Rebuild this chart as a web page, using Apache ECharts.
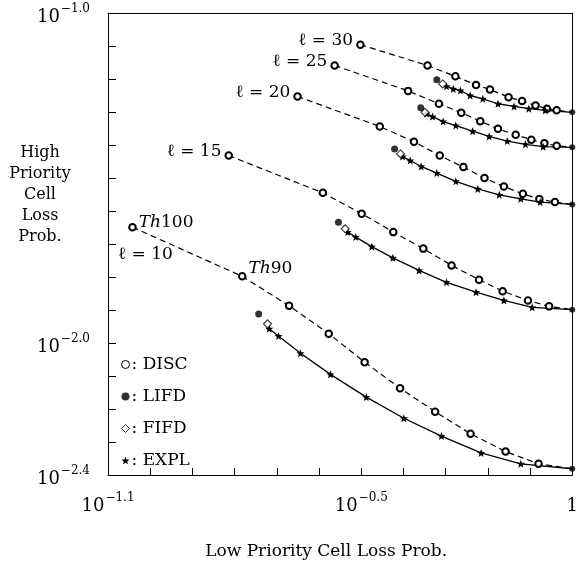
<!DOCTYPE html>
<html><head><meta charset="utf-8">
<script src="https://cdn.jsdelivr.net/npm/echarts@6/dist/echarts.min.js"></script>
<style>html,body{margin:0;padding:0;background:#fff}#c{width:581px;height:565px}</style>
</head><body><div id="c"></div>
<script>
// All values are log10 of probabilities: [log10(Low Priority CLP), log10(High Priority CLP)]
const curveNames = ['\u2113 = 10', '\u2113 = 15', '\u2113 = 20', '\u2113 = 25', '\u2113 = 30'];
const thresholdLabels = ['Th100', 'Th90'];

const disc10 = [[-1.042,-1.649],[-0.782,-1.798],[-0.671,-1.887],[-0.577,-1.972],[-0.492,-2.058],[-0.408,-2.137],[-0.325,-2.208],[-0.241,-2.275],[-0.158,-2.329],[-0.080,-2.366],[0,-2.381]];
const disc15 = [[-0.814,-1.432],[-0.591,-1.545],[-0.499,-1.608],[-0.424,-1.664],[-0.353,-1.714],[-0.286,-1.765],[-0.221,-1.808],[-0.165,-1.843],[-0.105,-1.871],[-0.055,-1.889],[0,-1.899]];
const disc20 = [[-0.651,-1.253],[-0.456,-1.344],[-0.375,-1.390],[-0.314,-1.432],[-0.258,-1.467],[-0.208,-1.500],[-0.162,-1.526],[-0.117,-1.548],[-0.078,-1.564],[-0.041,-1.573],[0,-1.580]];
const disc25 = [[-0.563,-1.159],[-0.389,-1.236],[-0.316,-1.275],[-0.263,-1.302],[-0.218,-1.328],[-0.176,-1.351],[-0.134,-1.369],[-0.097,-1.384],[-0.066,-1.395],[-0.037,-1.402],[0,-1.407]];
const disc30 = [[-0.502,-1.096],[-0.343,-1.159],[-0.277,-1.192],[-0.228,-1.218],[-0.195,-1.232],[-0.151,-1.255],[-0.119,-1.267],[-0.087,-1.280],[-0.060,-1.290],[-0.037,-1.295],[0,-1.301]];

const expl10 = [[-0.718,-1.957],[-0.696,-1.979],[-0.644,-2.031],[-0.573,-2.095],[-0.488,-2.164],[-0.399,-2.228],[-0.310,-2.282],[-0.216,-2.333],[-0.122,-2.366],[0,-2.381]];
const expl15 = [[-0.532,-1.664],[-0.513,-1.679],[-0.475,-1.708],[-0.425,-1.742],[-0.363,-1.780],[-0.298,-1.816],[-0.228,-1.846],[-0.162,-1.871],[-0.095,-1.892],[0,-1.899]];
const expl20 = [[-0.402,-1.435],[-0.384,-1.447],[-0.358,-1.465],[-0.321,-1.485],[-0.276,-1.510],[-0.224,-1.533],[-0.173,-1.551],[-0.122,-1.563],[-0.076,-1.573],[0,-1.580]];
const expl25 = [[-0.345,-1.305],[-0.331,-1.314],[-0.306,-1.329],[-0.276,-1.341],[-0.236,-1.358],[-0.197,-1.374],[-0.154,-1.388],[-0.111,-1.398],[-0.069,-1.405],[0,-1.407]];
const expl30 = [[-0.298,-1.222],[-0.282,-1.230],[-0.265,-1.235],[-0.242,-1.250],[-0.212,-1.260],[-0.176,-1.275],[-0.138,-1.283],[-0.103,-1.290],[-0.064,-1.295],[0,-1.301]];

const lifd = [[-0.743,-1.912],[-0.554,-1.634],[-0.421,-1.412],[-0.359,-1.287],[-0.321,-1.202]];
const fifd = [[-0.722,-1.942],[-0.538,-1.654],[-0.407,-1.427],[-0.349,-1.301],[-0.307,-1.215]];
const endPoints = [[0,-2.381],[0,-1.899],[0,-1.580],[0,-1.407],[0,-1.301]];

const xTickLabels = [-1.1, -0.5, 0];
const yTickLabels = [-2.4, -2.0, -1.0];

const FONT = '"DejaVu Serif", "Liberation Serif", serif';
const starPath = 'path://M0,-10L2.6,-3.4L9.5,-3.1L4.1,1.2L5.9,8.1L0,4.2L-5.9,8.1L-4.1,1.2L-9.5,-3.1L-2.6,-3.4Z';

const discs = [disc10, disc15, disc20, disc25, disc30];
const expls = [expl10, expl15, expl20, expl25, expl30];

function expLabel(v, list) {
  const r = Math.round(v * 10) / 10;
  if (!list.some(t => Math.abs(t - r) < 1e-6)) return '';
  if (Math.abs(r) < 1e-6) return '{b|1}';
  return '{b|10}{s|\u2212' + Math.abs(r).toFixed(1) + '}';
}
const richLab = {
  b: {fontFamily: FONT, fontSize: 18, color: '#000', padding: [8, 0, 0, 0]},
  s: {fontFamily: FONT, fontSize: 12, color: '#000', padding: [0, 0, 8, 1]}
};
const labStyle = {fontFamily: FONT, fontSize: 17, color: '#000'};
const italicRich = {i: {fontFamily: FONT, fontStyle: 'italic', fontSize: 17, color: '#000'}};

const series = [];
discs.forEach((d, i) => {
  const data = d.map((p, j) => {
    const item = {value: p};
    if (j === d.length - 1) item.symbol = 'none';
    if (j === 0) {
      if (i === 0) {
        item.label = {show: true, position: 'right', distance: 2, offset: [0, -5],
          formatter: '{i|Th}' + thresholdLabels[0].slice(2), rich: italicRich, ...labStyle};
      } else {
        item.label = {show: true, position: 'left', distance: 3, offset: [0, -4], formatter: curveNames[i], ...labStyle};
      }
    }
    if (i === 0 && j === 1) {
      item.label = {show: true, position: 'right', distance: 2, offset: [0, -8],
        formatter: '{i|Th}' + thresholdLabels[1].slice(2), rich: italicRich, ...labStyle};
    }
    return item;
  });
  const s = {
    type: 'line', name: 'DISC', data, symbol: 'emptyCircle', symbolSize: 6.5,
    lineStyle: {color: '#000', width: 1.2, type: [6, 4]},
    itemStyle: {color: '#000', borderColor: '#000', borderWidth: 1.2},
    z: 3, clip: false
  };
  if (i === 0) {
    s.markPoint = {
      symbol: 'circle', symbolSize: 0, silent: true,
      data: [{coord: d[0], label: {show: true, position: 'inside', offset: [13, 27], formatter: curveNames[0], ...labStyle}}]
    };
  }
  series.push(s);
});
expls.forEach((d) => {
  series.push({
    type: 'line', name: 'EXPL',
    data: d.map((p, j) => j === d.length - 1 ? {value: p, symbol: 'none'} : {value: p}),
    symbol: starPath, symbolSize: 8,
    lineStyle: {color: '#000', width: 1.3, type: 'solid'},
    itemStyle: {color: '#000'}, z: 3, clip: false
  });
});
series.push({type: 'scatter', name: 'LIFD', data: lifd, symbol: 'circle', symbolSize: 7, itemStyle: {color: '#000'}, z: 4, clip: false});
series.push({type: 'scatter', name: 'FIFD', data: fifd, symbol: 'diamond', symbolSize: 8,
  itemStyle: {color: '#fff', borderColor: '#000', borderWidth: 1.1}, z: 4, clip: false});
series.push({type: 'scatter', name: 'end', data: endPoints, symbol: 'circle', symbolSize: 6, itemStyle: {color: '#000'}, z: 5, clip: false});

const frameAxis = {axisLine: {show: true, onZero: false, lineStyle: {color: '#000', width: 1}},
  axisTick: {show: false}, axisLabel: {show: false}, splitLine: {show: false}};

const chart = echarts.init(document.getElementById('c'), null, {renderer: 'canvas'});
chart.setOption({
  animation: false,
  backgroundColor: '#fff',
  grid: {left: 108, right: 4, top: 13, bottom: 90, show: false},
  xAxis: [{
    type: 'value', position: 'bottom', min: -1.1, max: 0, interval: 0.1,
    name: 'Low Priority Cell Loss Prob.', nameLocation: 'middle', nameGap: 68,
    nameTextStyle: {fontFamily: FONT, fontSize: 17, color: '#000', padding: [0, 28, 0, 0]},
    axisLine: {show: true, onZero: false, lineStyle: {color: '#000', width: 1}},
    axisTick: {show: true, inside: true, length: 7, lineStyle: {color: '#000', width: 1}},
    splitLine: {show: false},
    axisLabel: {show: true, margin: 14, formatter: v => expLabel(v, xTickLabels), rich: richLab, showMinLabel: true, showMaxLabel: true}
  }, {
    type: 'value', position: 'top', min: -1.1, max: 0, ...frameAxis
  }],
  yAxis: [{
    type: 'value', position: 'left', min: -2.4, max: -1.0, interval: 0.1,
    axisLine: {show: true, onZero: false, lineStyle: {color: '#000', width: 1}},
    axisTick: {show: true, inside: true, length: 8, lineStyle: {color: '#000', width: 1}},
    splitLine: {show: false},
    axisLabel: {show: true, margin: 18, formatter: v => expLabel(v, yTickLabels), rich: richLab, showMinLabel: true, showMaxLabel: true}
  }, {
    type: 'value', position: 'right', min: -2.4, max: -1.0, ...frameAxis
  }],
  legend: {
    orient: 'vertical', left: 116, top: 351, itemGap: 15, itemWidth: 8, itemHeight: 8,
    selectedMode: false, formatter: ': {name}',
    textStyle: {fontFamily: FONT, fontSize: 17, color: '#000', padding: [0, 0, 0, -3]},
    data: [
      {name: 'DISC', icon: 'circle', itemStyle: {color: '#fff', borderColor: '#000', borderWidth: 1}},
      {name: 'LIFD', icon: 'circle', itemStyle: {color: '#000'}},
      {name: 'FIFD', icon: 'diamond', itemStyle: {color: '#fff', borderColor: '#000', borderWidth: 1}},
      {name: 'EXPL', icon: starPath, itemStyle: {color: '#000'}}
    ]
  },
  graphic: [{
    type: 'text', x: 40, y: 142,
    style: {text: 'High\nPriority\nCell\nLoss\nProb.', fill: '#000', fontFamily: FONT, fontSize: 16,
      lineHeight: 21, align: 'center', textAlign: 'center'}
  }],
  series
});
</script></body></html>
